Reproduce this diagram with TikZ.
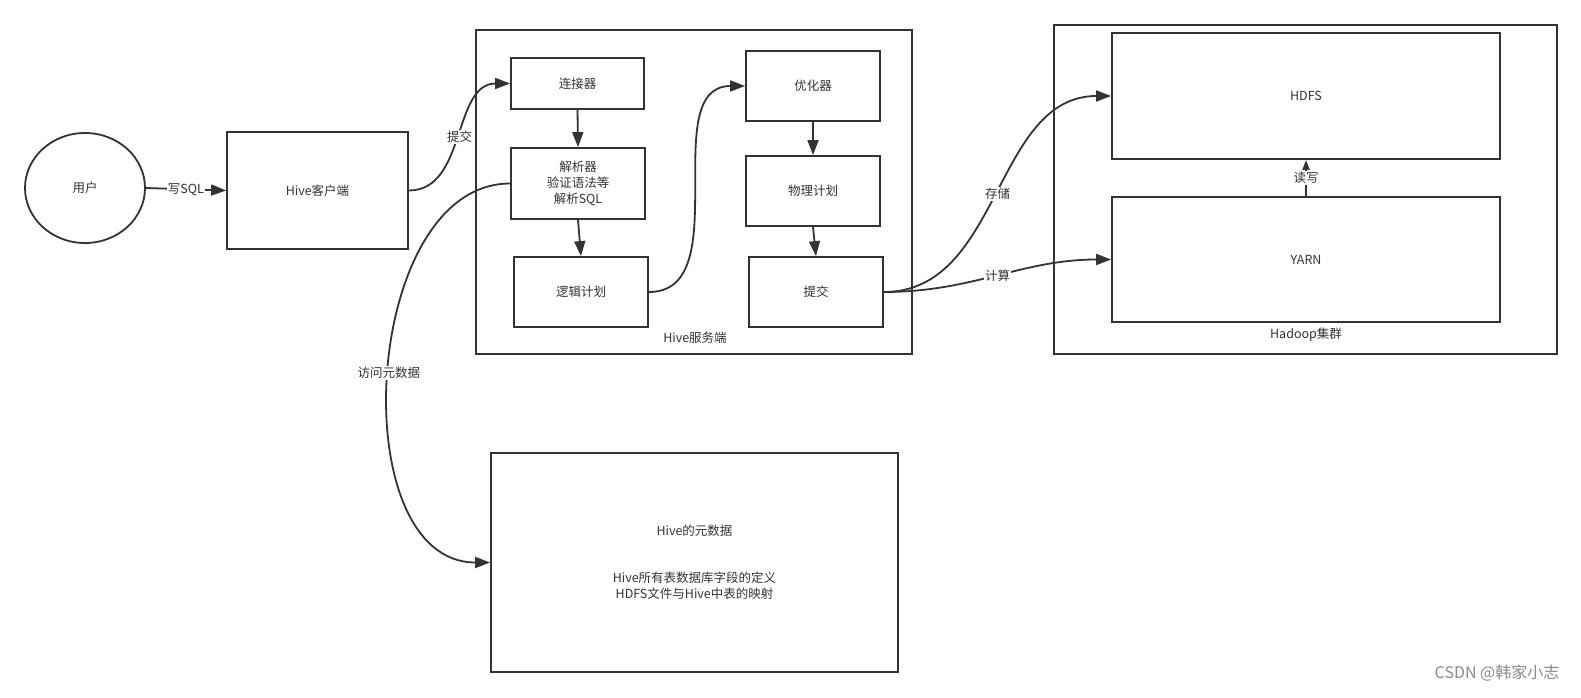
\documentclass[tikz,border=0pt]{standalone}
\usepackage{fontspec}
\setmainfont{Noto Sans CJK SC}
\usetikzlibrary{shapes.geometric,arrows.meta}
\definecolor{lncol}{HTML}{333333}
\definecolor{wmcol}{HTML}{8A8A8A}

\begin{document}
\begin{tikzpicture}[x=1pt,y=-1pt,
    box/.style={draw=lncol, line width=1.8pt, fill=white, text=lncol, align=center, inner sep=0pt,
      font=\fontsize{12.5}{16}\selectfont},
    lbl/.style={fill=white, text=lncol, inner sep=1pt, font=\fontsize{12.5}{16}\selectfont},
    arr/.style={draw=lncol, line width=1.8pt, -{Triangle[length=15pt,width=11pt]}},
    smallarr/.style={draw=lncol, line width=1.8pt, -{Triangle[length=10pt,width=7pt]}}]
    % Canvas
    \fill[white] (0,0) rectangle (1581,698);
    \useasboundingbox (0,0) rectangle (1581,698);
    % Outer frames
    \node[box, minimum width=436, minimum height=324] (server) at (694,192) {};
    \node[lbl, fill=none] (serverlbl) at (695,338) {Hive服务端};
    \node[box, minimum width=503, minimum height=329] (hadoop) at (1305.5,189.5) {};
    \node[lbl, fill=none] (hadooplbl) at (1306,335) {Hadoop集群};
    % User and client
    \node[box, ellipse, minimum width=120, minimum height=110] (user) at (85,188) {用户};
    \node[box, minimum width=181, minimum height=117] (client) at (317.5,190.5) {Hive客户端};
    % Hive server parts
    \node[box, minimum width=133, minimum height=51] (conn) at (577.5,83.5) {连接器};
    \node[box, minimum width=134, minimum height=71] (parser) at (578,183.5) {解析器\\验证语法等\\解析SQL};
    \node[box, minimum width=134, minimum height=70] (logic) at (581,292) {逻辑计划};
    \node[box, minimum width=134, minimum height=70] (optim) at (813,86) {优化器};
    \node[box, minimum width=134, minimum height=70] (phys) at (813,191) {物理计划};
    \node[box, minimum width=134, minimum height=70] (submit) at (816,292) {提交};
    % Hadoop parts
    \node[box, minimum width=388, minimum height=126] (hdfs) at (1306,96) {HDFS};
    \node[box, minimum width=388, minimum height=125] (yarn) at (1306,259.5) {YARN};
    % Metadata
    \node[box, minimum width=407, minimum height=219] (meta) at (694.5,562.5)
      {Hive的元数据\\[31pt]Hive所有表数据库字段的定义\\HDFS文件与Hive中表的映射};
    % Arrows
    \draw[arr] (user.east) -- node[lbl] {写SQL} (client.west);
    \draw[arr] (client.east) to[out=0, in=180] node[lbl] {提交} (conn.west);
    \draw[arr] (conn.south) -- (parser.north);
    \draw[arr] (parser.south) -- (logic.north);
    \draw[arr] (logic.east) to[out=0, in=180] (optim.west);
    \draw[arr] (optim.south) -- (phys.north);
    \draw[arr] (phys.south) -- (submit.north);
    \draw[arr] (submit.east) to[out=0, in=180] node[lbl] {存储} (hdfs.west);
    \draw[arr] (submit.east) to[out=0, in=180] node[lbl] {计算} (yarn.west);
    \draw[smallarr] (yarn.north) -- node[lbl] {读写} (hdfs.south);
    \draw[arr] (parser.west) to[out=180, in=180] node[lbl] {访问元数据} (meta.west);
    % Watermark
    \node[text=wmcol, inner sep=0pt, font=\fontsize{16}{18}\selectfont] (mark) at (1497,673) {CSDN @韩家小志};
\end{tikzpicture}
\end{document}
